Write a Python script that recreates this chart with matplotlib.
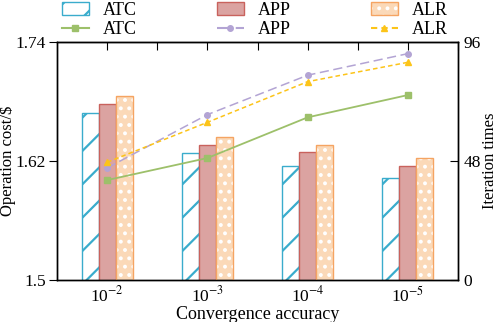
import matplotlib.pyplot as plt
import numpy as np
from matplotlib.patches import Patch
from matplotlib.lines import Line2D
from matplotlib.legend_handler import HandlerTuple

plt.rcParams['font.family'] = ['Liberation Serif', 'DejaVu Serif']
plt.rcParams['mathtext.fontset'] = 'stix'
plt.rcParams['hatch.linewidth'] = 1.6

categories = ["10$^{-2}$", "10$^{-3}$", "10$^{-4}$", "10$^{-5}$"]
cost_atc = [1.668, 1.628, 1.615, 1.603]
cost_app = [1.677, 1.636, 1.629, 1.615]
cost_alr = [1.686, 1.644, 1.636, 1.623]
iter_atc = [40.3, 49.2, 65.6, 74.6]
iter_app = [45.2, 66.7, 82.6, 91.3]
iter_alr = [47.5, 63.6, 80.0, 87.8]

c_atc_bar = "#3aaccc"
c_app_face, c_app_edge = "#dba3a1", "#c9625d"
c_alr_face, c_alr_edge = "#fbd9b8", "#f5a462"
c_atc_line, c_app_line, c_alr_line = "#9dc06a", "#b3a4d4", "#fcc419"

fig = plt.figure(figsize=(4.98, 3.22), dpi=100)
ax = fig.add_axes([0.1145, 0.1304, 0.8052, 0.7392])
ax2 = ax.twinx()

x = np.arange(len(categories))
w = 0.17
ax.bar(x - w, cost_atc, w, facecolor="white", edgecolor=c_atc_bar, hatch="/", lw=1.0, zorder=2)
ax.bar(x, cost_app, w, facecolor=c_app_face, edgecolor=c_app_edge, lw=1.0, zorder=2)
ax.bar(x + w, cost_alr, w, facecolor=c_alr_face, edgecolor="white", hatch="..", lw=0, zorder=2)
ax.bar(x + w, cost_alr, w, fill=False, edgecolor=c_alr_edge, lw=1.0, zorder=3)

ax2.plot(x, iter_atc, color=c_atc_line, ls="-", lw=1.3, marker="s", ms=4)
ax2.plot(x, iter_app, color=c_app_line, ls=(0, (6, 3)), lw=1.1, marker="o", ms=4)
ax2.plot(x, iter_alr, color=c_alr_line, ls=(0, (3, 2)), lw=1.1, marker="^", ms=4.5)

ax.set_xlim(-0.5, 3.5)
ax.set_ylim(1.5, 1.74)
ax.set_yticks([1.5, 1.62, 1.74])
ax.set_yticklabels(["1.5", "1.62", "1.74"])
ax2.set_ylim(0, 96)
ax2.set_yticks([0, 48, 96])
ax.set_xticks(x)
ax.set_xticklabels(categories)
ax.tick_params(axis="x", which="major", length=0, labelsize=12.5, pad=4)
ax.tick_params(axis="y", direction="out", length=6, labelsize=12.5, pad=2)
ax2.tick_params(axis="y", direction="in", length=6, labelsize=12.5, pad=4)
ax.set_xlabel("Convergence accuracy", fontsize=13, labelpad=0)
ax.set_ylabel("Operation cost/\\$", fontsize=12, va="center")
ax2.set_ylabel("Iteration times", fontsize=12, va="center")
ax.yaxis.set_label_coords(-0.122, 0.5)
ax2.yaxis.set_label_coords(1.08, 0.5)

# top ticks every half category
top = ax.secondary_xaxis("top")
top.set_xticks(np.arange(0.0, 3.6, 0.5))
top.tick_params(direction="in", length=6, labeltop=False)

for a in (ax, ax2):
    for s in a.spines.values():
        s.set_linewidth(1.0)

h_atc = Patch(facecolor="white", edgecolor=c_atc_bar, hatch="/")
h_app = Patch(facecolor=c_app_face, edgecolor=c_app_edge)
h_alr = (Patch(facecolor=c_alr_face, edgecolor="white", hatch="..", lw=0),
         Patch(fill=False, edgecolor=c_alr_edge))
l_atc = Line2D([], [], color=c_atc_line, ls="-", marker="s", ms=4)
l_app = Line2D([], [], color=c_app_line, ls=(0, (6, 3)), marker="o", ms=4)
l_alr = Line2D([], [], color=c_alr_line, ls=(0, (3, 2)), marker="^", ms=4.5)
fig.legend([h_atc, l_atc, h_app, l_app, h_alr, l_alr],
           ["ATC", "ATC", "APP", "APP", "ALR", "ALR"],
           ncol=3, loc="upper center", bbox_to_anchor=(0.512, 1.045), frameon=False,
           fontsize=13, handlelength=1.5, handletextpad=0.8, columnspacing=4.4,
           labelspacing=0.12,
           handler_map={tuple: HandlerTuple(ndivide=1)})

fig.savefig("out.png", dpi=100)
